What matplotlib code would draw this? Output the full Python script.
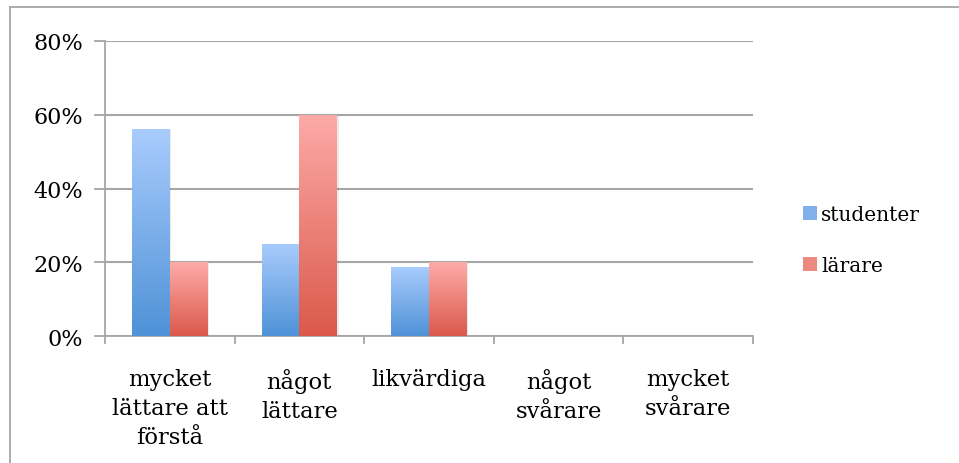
import numpy as np
import matplotlib
matplotlib.use("Agg")
import matplotlib.pyplot as plt
from matplotlib.colors import LinearSegmentedColormap
from matplotlib.patches import Rectangle
from matplotlib.lines import Line2D

categories = ["mycket\nlättare att\nförstå", "något\nlättare", "likvärdiga", "något\nsvårare", "mycket\nsvårare"]
studenter = [56.25, 25.0, 18.75, 0.0, 0.0]
larare = [20.0, 60.0, 20.0, 0.0, 0.0]
series_names = ["studenter", "lärare"]
yticks = [0, 20, 40, 60, 80]
ytick_labels = ["0%", "20%", "40%", "60%", "80%"]

plt.rcParams['font.family'] = ['DejaVu Serif']

fig = plt.figure(figsize=(9.59, 4.64), dpi=100)
ax = fig.add_axes([105/959, 1-337/464, 648/959, 295/464])

# outer border (only left/top visible in reference)
bx, by = 9.5/959, 1 - 7.5/464
fig.lines.append(Line2D([bx, 1.0], [by, by], transform=fig.transFigure, color="#a6a6a6", lw=1.3))
fig.lines.append(Line2D([bx, bx], [0.0, by], transform=fig.transFigure, color="#a6a6a6", lw=1.3))

x = np.arange(len(categories))
w = 0.29
grad_blue = LinearSegmentedColormap.from_list("b", ["#4f92d7", "#a9ccfd"])
grad_red = LinearSegmentedColormap.from_list("r", ["#db594b", "#fdaba8"])

for vals, off, cmap, name in [(studenter, -w/2, grad_blue, series_names[0]), (larare, w/2, grad_red, series_names[1])]:
    bars = ax.bar(x + off, vals, width=w, color="none", edgecolor="none", zorder=3)
    for b in bars:
        h = b.get_height()
        if h <= 0:
            continue
        x0 = b.get_x()
        ax.add_patch(Rectangle((x0 + 0.012, 0), b.get_width(), h - 0.3, color="#000000", alpha=0.08, zorder=2, lw=0))
        grad = np.linspace(0, 1, 256).reshape(-1, 1)
        im = ax.imshow(grad, cmap=cmap, aspect="auto", origin="lower",
                       extent=[x0, x0 + b.get_width(), 0, h], zorder=3)
        im.set_clip_path(b)

ax.set_xlim(-0.5, len(categories) - 0.5)
ax.set_ylim(0, 80)
ax.set_yticks(yticks)
ax.set_yticklabels(ytick_labels, fontsize=16)
ax.set_xticks(x)
ax.set_xticklabels(categories, fontsize=16.3, linespacing=1.42)
ax.set_xticks(np.arange(len(categories) + 1) - 0.5, minor=True)
ax.tick_params(axis="x", which="major", length=0, pad=23)
ax.tick_params(axis="x", which="minor", length=6, width=1.3, color="#a6a6a6")
ax.tick_params(axis="y", length=8, width=1.3, color="#a6a6a6", pad=8)
ax.grid(axis="y", color="#a6a6a6", lw=1.5, zorder=0)
ax.set_axisbelow(True)
for s in ["top", "right"]:
    ax.spines[s].set_visible(False)
for s in ["left", "bottom"]:
    ax.spines[s].set_color("#a6a6a6")
    ax.spines[s].set_linewidth(1.3)

handles = [Rectangle((0, 0), 1, 1, facecolor="#7fb0ea", edgecolor="none"),
           Rectangle((0, 0), 1, 1, facecolor="#ec8a82", edgecolor="none")]
leg = fig.legend(handles, series_names, loc="center left", bbox_to_anchor=(803/959, 1-241/464),
                 frameon=False, fontsize=14.5, handlelength=0.7, handleheight=0.7,
                 handletextpad=0.2, labelspacing=1.55, borderaxespad=0, borderpad=0)

fig.savefig("out.png", dpi=100)
